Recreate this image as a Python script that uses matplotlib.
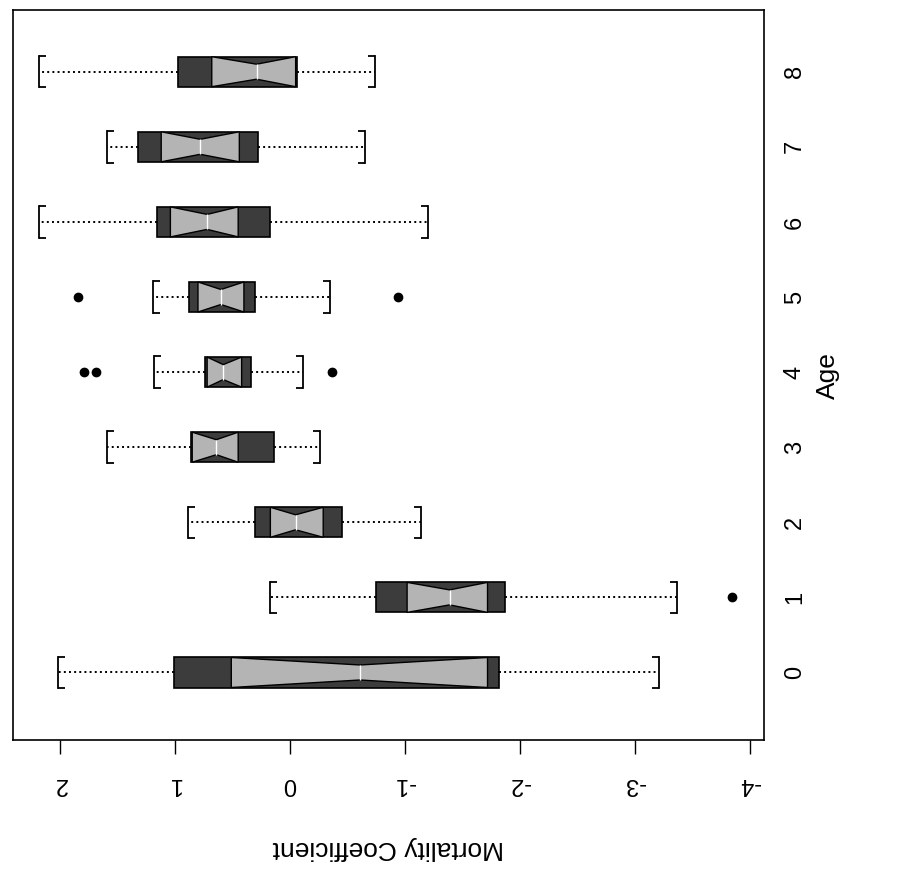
import matplotlib
matplotlib.use("Agg")
import matplotlib.pyplot as plt

plt.rcParams['font.family'] = ['Liberation Sans', 'DejaVu Sans']

# notched boxplot summaries, one entry per age
ages = [0, 1, 2, 3, 4, 5, 6, 7, 8]
whisk_hi = [2.02, 0.17, 0.89, 1.59, 1.18, 1.19, 2.18, 1.59, 2.18]
q3 = [1.01, -0.75, 0.30, 0.86, 0.74, 0.88, 1.16, 1.32, 0.97]
notch_hi = [0.51, -1.02, 0.17, 0.85, 0.72, 0.80, 1.04, 1.12, 0.68]
medians = [-0.61, -1.39, -0.05, 0.64, 0.58, 0.60, 0.72, 0.78, 0.29]
notch_lo = [-1.72, -1.72, -0.29, 0.45, 0.42, 0.40, 0.45, 0.44, -0.05]
q1 = [-1.82, -1.87, -0.45, 0.14, 0.34, 0.30, 0.17, 0.28, -0.06]
whisk_lo = [-3.21, -3.37, -1.14, -0.26, -0.11, -0.35, -1.20, -0.65, -0.74]
outliers = [[], [-3.85], [], [], [1.79, 1.69, -0.37], [1.84, -0.94], [], [], []]

x_ticks = [2, 1, 0, -1, -2, -3, -4]

dark = '#3c3c3c'
light = '#b4b4b4'

fig = plt.figure(figsize=(9, 8.8), dpi=100)
ax = fig.add_axes([0.0144, 0.159, 0.835, 0.8295])

full = []
notch = []
for i in range(len(ages)):
    full.append(dict(med=medians[i], q1=q1[i], q3=q3[i],
                     whislo=whisk_lo[i], whishi=whisk_hi[i],
                     fliers=outliers[i]))
    notch.append(dict(med=medians[i], q1=notch_lo[i], q3=notch_hi[i],
                      cilo=notch_lo[i], cihi=notch_hi[i],
                      whislo=notch_lo[i], whishi=notch_hi[i], fliers=[]))

# dark rectangle boxes with dotted whiskers and bracket caps
res = ax.bxp(full, positions=ages, widths=0.4, capwidths=0.42,
             orientation='horizontal', patch_artist=True,
             boxprops=dict(facecolor=dark, edgecolor='black', linewidth=1.2),
             whiskerprops=dict(color='black', linestyle=':', linewidth=1.4),
             capprops=dict(color='black', linewidth=1.3),
             medianprops=dict(linewidth=0),
             flierprops=dict(marker='o', markerfacecolor='black',
                             markeredgecolor='black', markersize=6))

# light notch region drawn over the dark box
ax.bxp(notch, positions=ages, widths=0.4, orientation='horizontal',
       patch_artist=True, shownotches=True, showcaps=False, showfliers=False,
       boxprops=dict(facecolor=light, edgecolor='black', linewidth=1.0),
       whiskerprops=dict(linewidth=0),
       medianprops=dict(color='white', linewidth=1.0))

# little serifs so the caps look like brackets
for k, cap in enumerate(res['caps']):
    cap.set_marker(0 if k % 2 == 0 else 1)
    cap.set_markersize(5)
    cap.set_markeredgewidth(1.3)

ax.set_xlim(2.41, -4.13)
ax.set_ylim(-0.9, 8.82)

ax.set_xticks(x_ticks)
ax.set_xticklabels([str(t) for t in x_ticks], rotation=180, fontsize=17)
ax.tick_params(axis='x', length=10, width=1, pad=14, colors='black')

ax.yaxis.tick_right()
ax.set_yticks(ages)
ax.set_yticklabels([str(a) for a in ages], rotation=90, fontsize=17,
                   va='center')
ax.tick_params(axis='y', length=0, pad=14)

ax.set_xlabel('Mortality Coefficient', rotation=180, fontsize=19,
              va='center', ha='center')
ax.xaxis.set_label_coords(0.5, -0.148)
ax.yaxis.set_label_position('right')
ax.set_ylabel('Age', rotation=90, fontsize=19, va='center', ha='center')
ax.yaxis.set_label_coords(1.085, 0.5)

for s in ax.spines.values():
    s.set_linewidth(1.2)

fig.savefig('out.png', dpi=100)
